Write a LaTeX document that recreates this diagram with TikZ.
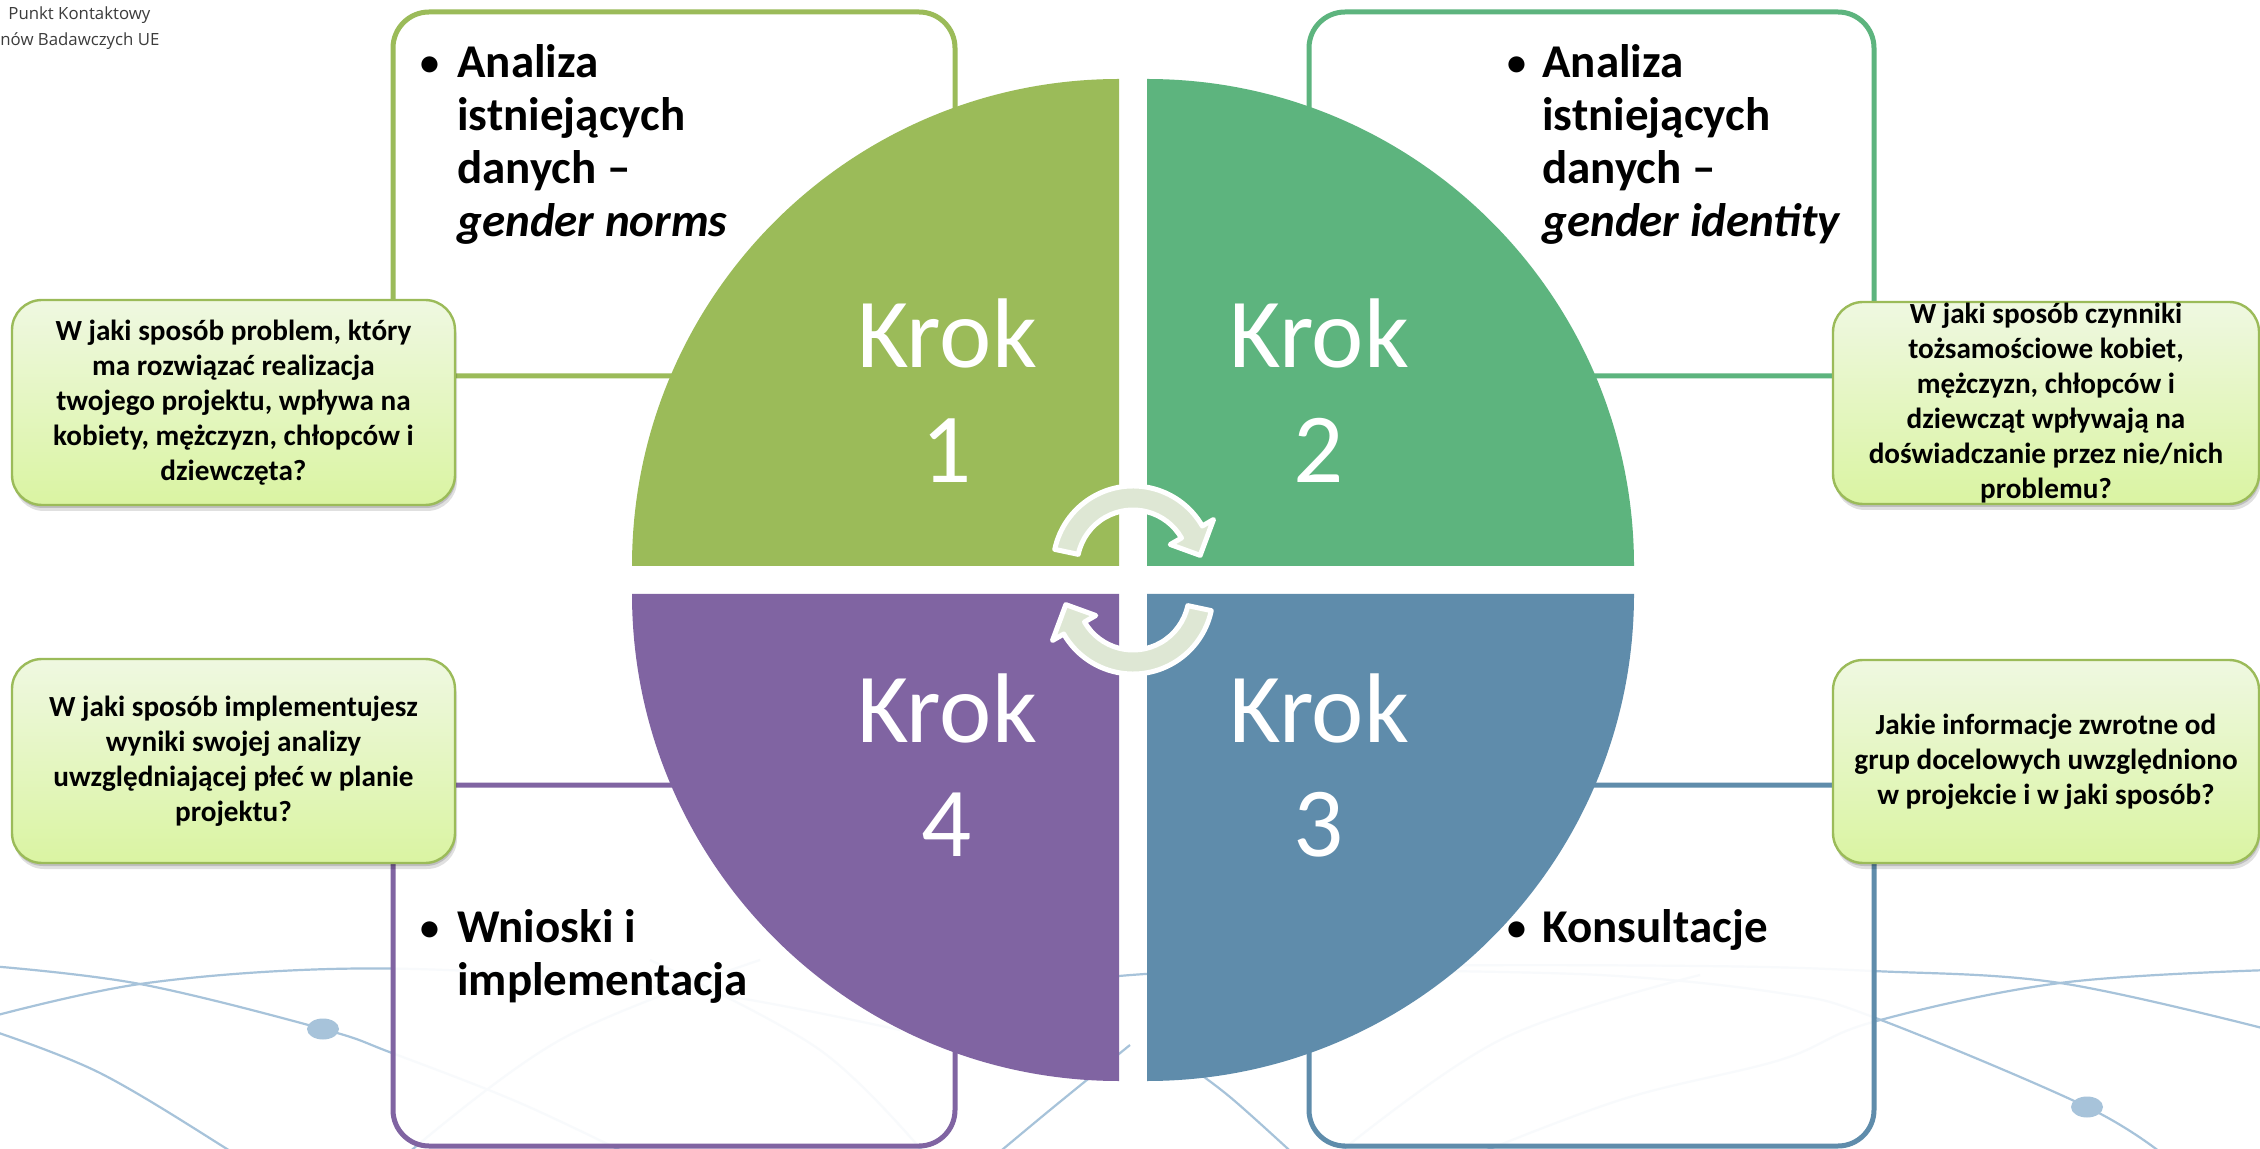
\documentclass[tikz,border=0pt]{standalone}
\usepackage{fontspec}
\setmainfont{Carlito}
\newfontfamily\logofont{Open Sans}
\usetikzlibrary{calc,shadows}
\definecolor{cA}{HTML}{9BBB59}
\definecolor{cB}{HTML}{5DB47E}
\definecolor{cC}{HTML}{5F8CAB}
\definecolor{cD}{HTML}{8064A2}
\definecolor{qtop}{HTML}{EFF8E1}
\definecolor{qbot}{HTML}{DAF4A2}
\definecolor{arrowfill}{HTML}{DEE7D4}
\definecolor{bgline}{HTML}{A7C3DA}
\definecolor{logogray}{HTML}{3C3C3C}
\tikzset{
  bg/.style={draw=bgline, line width=1.1pt},
  steprect/.style={rounded corners=18pt, line width=2.5pt, fill=white, fill opacity=0.92},
  kroktext/.style={text=white, font=\fontsize{49.5pt}{57.5pt}\selectfont, inner sep=0pt, anchor=base},
  bul/.style={font=\fontsize{23.5pt}{26.5pt}\selectfont\bfseries, inner sep=0pt, anchor=base west},
  bulmark/.style={font=\fontsize{19pt}{22pt}\selectfont\bfseries, inner sep=0pt, anchor=base},
  qbox/.style={rounded corners=15pt, draw=cA, line width=1.2pt, top color=qtop, bottom color=qbot,
    drop shadow={shadow xshift=1pt, shadow yshift=-3pt, opacity=0.12, fill=black},
    drop shadow={shadow xshift=0.5pt, shadow yshift=-1.5pt, opacity=0.15, fill=black},
    font=\fontsize{14.6pt}{17.5pt}\selectfont\bfseries, align=center, inner sep=0pt},
  cyc/.style={fill=arrowfill, draw=white, line width=2.5pt, line join=round},
  logo/.style={anchor=base west, font=\logofont\fontsize{8.4pt}{10pt}\selectfont, text=logogray, inner sep=0pt},
}
\begin{document}
\begin{tikzpicture}[x=0.5pt,y=-0.5pt]
\useasboundingbox (0,0) rectangle (2260,1149);
\fill[white] (0,0) rectangle (2260,1149);

% background decorative curves
\draw[bg] plot[smooth, tension=0.6] coordinates {(-10,966) (140,984) (323,1029) (392,1053) (520,1103) (640,1160)};
\draw[bg] plot[smooth, tension=0.6] coordinates {(-10,1017) (140,984) (330,969) (520,974) (720,995) (900,1030)};
\draw[bg] plot[smooth, tension=0.6] coordinates {(-10,1030) (100,1073) (227,1149) (240,1160)};
\draw[bg] plot[smooth, tension=0.6] coordinates {(400,1160) (560,1040) (760,960)};
\draw[bg] plot[smooth, tension=0.6] coordinates {(650,960) (820,1050) (930,1160)};
\draw[bg] plot[smooth, tension=0.6] coordinates {(990,1160) (1050,1110) (1130,1045)};
\draw[bg] plot[smooth, tension=0.6] coordinates {(950,1000) (1131,975) (1400,966) (1700,966) (1873,971) (2060,983) (2270,1030)};
\draw[bg] plot[smooth, tension=0.6] coordinates {(1450,1165) (1620,1100) (1780,1060) (1873,1022) (2060,983) (2270,970)};
\draw[bg] plot[smooth, tension=0.6] coordinates {(1350,970) (1600,975) (1780,993) (1873,1017) (2087,1107) (2170,1160)};
\draw[bg] plot[smooth, tension=0.6] coordinates {(1180,1060) (1230,1097) (1300,1160)};
\draw[bg] plot[smooth, tension=0.6] coordinates {(1330,1160) (1500,1040) (1700,975)};
\fill[bgline] (323,1029) ellipse [x radius=16, y radius=10.5];
\fill[bgline] (2087,1107) ellipse [x radius=16, y radius=10.5];

% logo text
\node[logo] (logo1) at (8,20) {Punkt Kontaktowy};
\node[logo] (logo2) at (0,46) {nów Badawczych UE};

% corner boxes
\draw[steprect, draw=cA] (393,12) rectangle (955,376);
\draw[steprect, draw=cB] (1309,12) rectangle (1874,376);
\draw[steprect, draw=cD] (393,785) rectangle (955,1146);
\draw[steprect, draw=cC] (1309,785) rectangle (1874,1146);

% quadrants
\fill[cA] (1119,566) -- (632,566) arc[start angle=180, end angle=270, radius=487] -- cycle;
\fill[cB] (1147,566) -- (1147,79) arc[start angle=270, end angle=360, radius=487] -- cycle;
\fill[cC] (1147,594) -- (1634,594) arc[start angle=0, end angle=90, radius=487] -- cycle;
\fill[cD] (1119,594) -- (1119,1081) arc[start angle=90, end angle=180, radius=487] -- cycle;

% Krok labels
\node[kroktext] (k1a) at (947,368) {Krok};
\node[kroktext] (k1b) at (947,483) {1};
\node[kroktext] (k2a) at (1319,368) {Krok};
\node[kroktext] (k2b) at (1319,483) {2};
\node[kroktext] (k4a) at (947,742) {Krok};
\node[kroktext] (k4b) at (947,856) {4};
\node[kroktext] (k3a) at (1319,742) {Krok};
\node[kroktext] (k3b) at (1319,856) {3};

% circular arrows
\begin{scope}[shift={(1133,566)}]
\filldraw[cyc] (192:80) arc[start angle=192, end angle=330, radius=80] -- (330:93) -- (351:68) -- (330:43) -- (330:56) arc[start angle=330, end angle=192, radius=56] -- cycle;
\end{scope}
\begin{scope}[shift={(1133,594)}]
\filldraw[cyc] (12:80) arc[start angle=12, end angle=150, radius=80] -- (150:93) -- (171:68) -- (150:43) -- (150:56) arc[start angle=150, end angle=12, radius=56] -- cycle;
\end{scope}

% question boxes
\node[qbox, minimum width=221.5pt, minimum height=102.5pt] (q1) at (233.5,402.5)
  {W jaki sposób problem, który\\ ma rozwiązać realizacja\\ twojego projektu, wpływa na\\ kobiety, mężczyzn, chłopców i\\ dziewczęta?};
\node[qbox, minimum width=213pt, minimum height=101pt] (q2) at (2046,403)
  {W jaki sposób czynniki\\ tożsamościowe kobiet,\\ mężczyzn, chłopców i\\ dziewcząt wpływają na\\ doświadczanie przez nie/nich\\ problemu?};
\node[qbox, minimum width=221.5pt, minimum height=102pt] (q4) at (233.5,761)
  {W jaki sposób implementujesz\\ wyniki swojej analizy\\ uwzględniającej płeć w planie\\ projektu?};
\node[qbox, minimum width=213pt, minimum height=101.5pt] (q3) at (2046,761.5)
  {Jakie informacje zwrotne od\\ grup docelowych uwzględniono\\ w projekcie i w jaki sposób?};

% bullet texts
\node[bulmark] (b1) at (430,76) {\textbullet};
\node[bul] (t1a) at (457,78) {Analiza};
\node[bul] (t1b) at (457,131) {istniejących};
\node[bul] (t1c) at (457,184) {danych –};
\node[bul] (t1d) at (457,237) {\itshape gender norms};

\node[bulmark] (b2) at (1517,76) {\textbullet};
\node[bul] (t2a) at (1542,78) {Analiza};
\node[bul] (t2b) at (1542,131) {istniejących};
\node[bul] (t2c) at (1542,184) {danych –};
\node[bul] (t2d) at (1542,237) {\itshape gender identity};

\node[bulmark] (b4) at (430,940) {\textbullet};
\node[bul] (t4a) at (457,942) {Wnioski i};
\node[bul] (t4b) at (457,995) {implementacja};

\node[bulmark] (b3) at (1517,940) {\textbullet};
\node[bul] (t3a) at (1542,942) {Konsultacje};
\end{tikzpicture}
\end{document}
